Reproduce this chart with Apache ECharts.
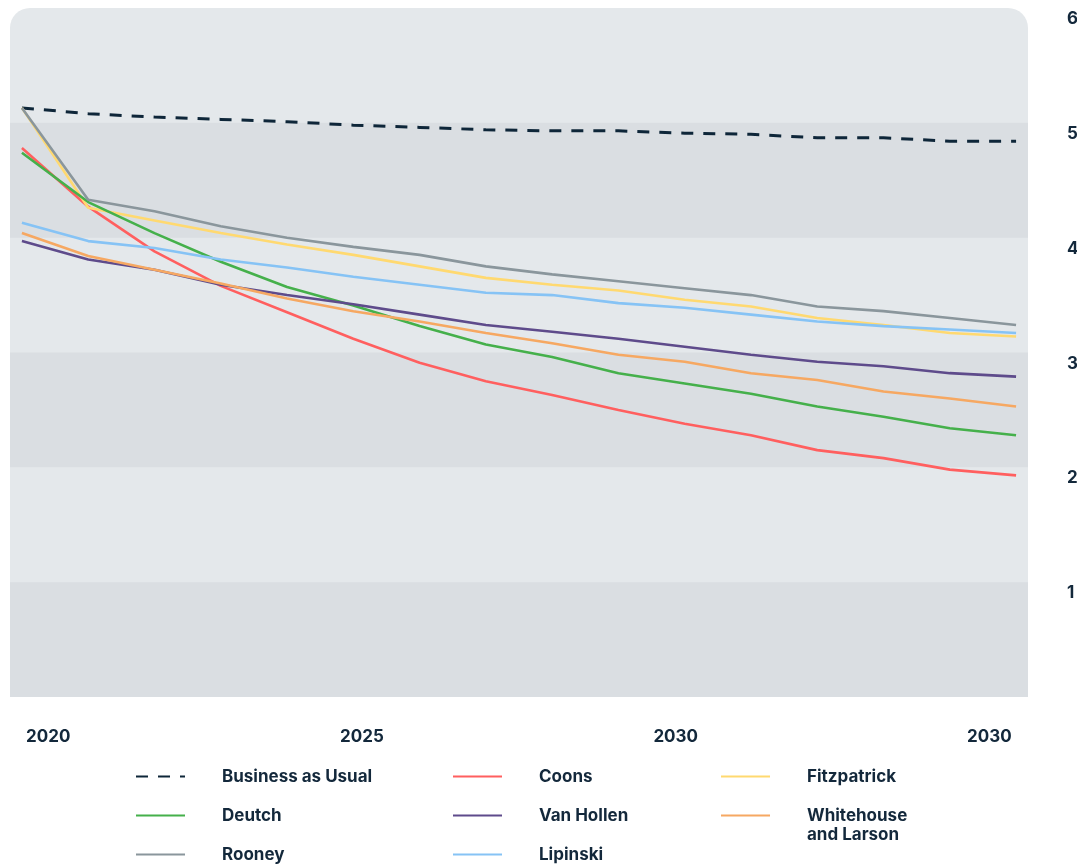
<!DOCTYPE html>
<html>
<head>
<meta charset="utf-8">
<script src="https://cdn.jsdelivr.net/npm/echarts@6/dist/echarts.min.js"></script>
<style>
html,body{margin:0;padding:0;background:#ffffff;overflow:hidden;}
#chart{width:1077px;height:867px;}
</style>
</head>
<body>
<div id="chart"></div>
<script>
// ---- data ----
const steps = [0,1,2,3,4,5,6,7,8,9,10,11,12,13,14,15];
const xTickLabels = ['2020','2025','2030','2030'];
const yTickValues = [1,2,3,4,5,6];

const businessAsUsual = [5.13,5.08,5.05,5.03,5.01,4.98,4.96,4.94,4.93,4.93,4.91,4.90,4.87,4.87,4.84,4.84];
const coons          = [4.78,4.27,3.88,3.58,3.35,3.12,2.91,2.75,2.63,2.50,2.38,2.28,2.15,2.08,1.98,1.93];
const fitzpatrick    = [5.13,4.26,4.15,4.04,3.94,3.85,3.75,3.65,3.59,3.54,3.46,3.40,3.30,3.24,3.17,3.14];
const deutch         = [4.74,4.31,4.04,3.79,3.57,3.41,3.23,3.07,2.96,2.82,2.73,2.64,2.53,2.44,2.34,2.28];
const vanHollen      = [3.97,3.81,3.72,3.59,3.50,3.42,3.33,3.24,3.18,3.12,3.05,2.98,2.92,2.88,2.82,2.79];
const whitehouse     = [4.04,3.84,3.72,3.60,3.47,3.36,3.27,3.17,3.08,2.98,2.92,2.82,2.76,2.66,2.60,2.53];
const rooney         = [5.13,4.33,4.23,4.10,4.00,3.92,3.85,3.75,3.68,3.62,3.56,3.50,3.40,3.36,3.30,3.24];
const lipinski       = [4.13,3.97,3.91,3.81,3.74,3.66,3.59,3.52,3.50,3.43,3.39,3.33,3.27,3.23,3.20,3.17];

const seriesNames = ['Business as Usual','Coons','Fitzpatrick','Deutch','Van Hollen','Whitehouse and Larson','Rooney','Lipinski'];
const seriesValues = [businessAsUsual, coons, fitzpatrick, deutch, vanHollen, whitehouse, rooney, lipinski];
const seriesColors = ['#0e2639','#ff5f5f','#ffd970','#45b04b','#5e4b8b','#f6a862','#8a969c','#86c3f5'];

// ---- chart ----
const TEXT = '#13283b';
const FONT = 'Inter';
const chart = echarts.init(document.getElementById('chart'), null, {renderer:'canvas'});

const series = seriesNames.map((name, k) => ({
  name: name,
  type: 'line',
  xAxisIndex: 0,
  yAxisIndex: 0,
  symbol: 'none',
  smooth: false,
  animation: false,
  data: seriesValues[k].map((v, i) => [steps[i], v]),
  lineStyle: {
    color: seriesColors[k],
    width: k === 0 ? 3 : 2.6,
    type: k === 0 ? [12, 10] : 'solid',
    cap: 'butt'
  },
  itemStyle: {color: seriesColors[k]},
  z: 3 + k
}));

const legendText = {
  color: TEXT, fontFamily: FONT, fontWeight: 700, fontSize: 17, lineHeight: 19,
  padding: [0,0,0,32]
};
function legendCol(left, names, gap){
  return {
    orient: 'vertical',
    left: left,
    top: 767,
    height: 120,
    padding: 0,
    itemWidth: 49,
    itemHeight: 19,
    itemGap: gap,
    selectedMode: false,
    textStyle: legendText,
    itemStyle: {color: 'rgba(0,0,0,0)', borderWidth: 0, opacity: 0},
    // two-line label: a leading empty line keeps "Whitehouse" level with its line sample
    formatter: n => n === 'Whitehouse and Larson' ? '\nWhitehouse\nand Larson' : n,
    data: names
  };
}

const option = {
  animation: false,
  backgroundColor: '#ffffff',
  textStyle: {fontFamily: FONT},
  graphic: [{
    type: 'rect',
    silent: true,
    z: -10,
    shape: {x: 10, y: 8, width: 1018, height: 689, r: [20,20,0,0]},
    style: {fill: '#e4e8eb'}
  }],
  grid: {left: 10, right: 49, top: 8, bottom: 170, containLabel: false, outerBoundsMode: 'none'},
  xAxis: [{
    type: 'value',
    min: -0.18, max: 15.18,
    show: false
  },{
    type: 'value',
    position: 'bottom',
    min: -0.122, max: 3.123,
    axisLine: {show: false},
    axisTick: {show: false},
    splitLine: {show: false},
    axisLabel: {
      customValues: [0,1,2,3],
      formatter: v => xTickLabels[Math.round(v)],
      color: TEXT, fontFamily: FONT, fontWeight: 700, fontSize: 17,
      margin: 31
    }
  }],
  yAxis: [{
    type: 'value',
    position: 'right',
    min: 0, max: 6, interval: 1,
    axisLine: {show: false},
    axisTick: {show: false},
    splitLine: {show: false},
    splitArea: {show: true, areaStyle: {color: ['#dadee2', 'rgba(0,0,0,0)']}},
    axisLabel: {
      customValues: yTickValues,
      formatter: v => String(v),
      color: TEXT, fontFamily: FONT, fontWeight: 700, fontSize: 17, lineHeight: 22,
      margin: 39, align: 'left', verticalAlign: 'top'
    }
  }],
  legend: [
    legendCol(135, ['Business as Usual','Deutch','Rooney'], 20),
    legendCol(452, ['Coons','Van Hollen','Lipinski'], 20),
    legendCol(720, ['Fitzpatrick','Whitehouse and Larson'], 1)
  ],
  series: series
};
chart.setOption(option);
</script>
</body>
</html>
